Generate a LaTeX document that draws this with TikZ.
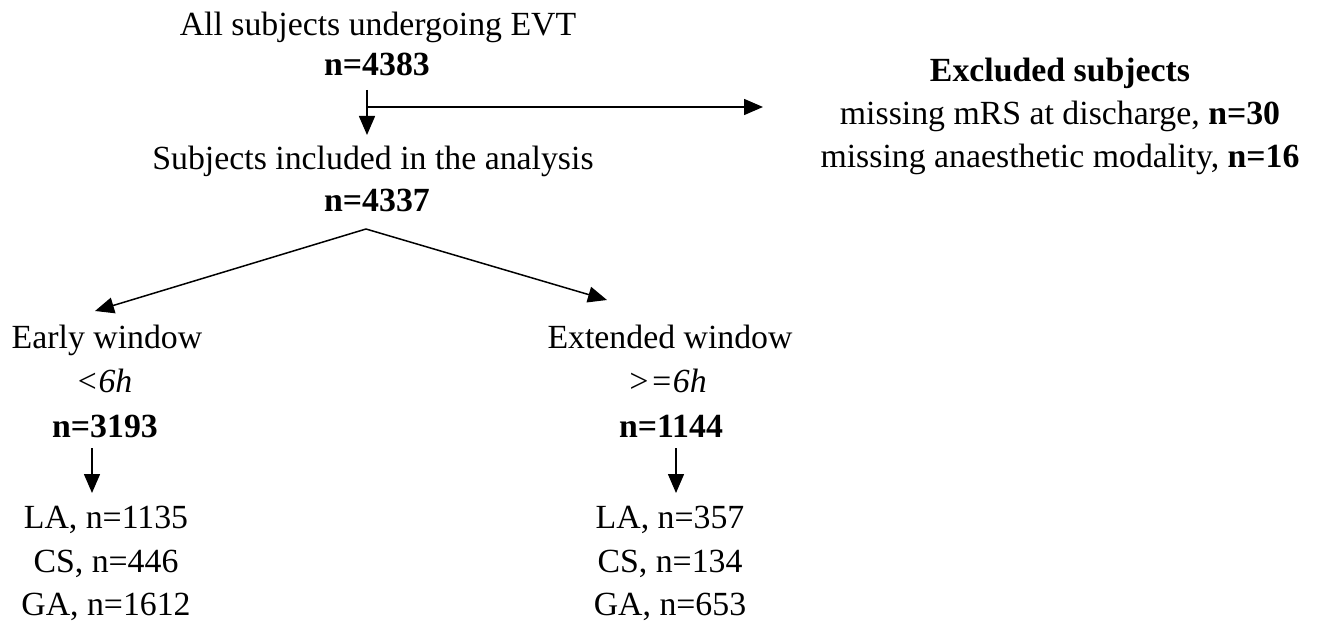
\documentclass[tikz,border=0pt]{standalone}
\usepackage{fontspec}
\setmainfont{Liberation Serif}
\usetikzlibrary{arrows.meta}
\begin{document}
\begin{tikzpicture}[x=0.5pt,y=-0.5pt,
  txt/.style={anchor=base,inner sep=0pt,font=\fontsize{16.9pt}{20pt}\selectfont},
  num/.style={anchor=base,inner sep=0pt,font=\fontsize{16.9pt}{20pt}\selectfont\bfseries},
  flow/.style={-{Triangle[length=9.5pt,width=8pt]},line width=0.75pt}]
\fill[white] (0,0) rectangle (1320,625);
\useasboundingbox (0,0) rectangle (1320,625);

% top of the flow
\node[txt] (all)   at (378,36)  {All subjects undergoing EVT};
\node[num] (nall)  at (377,76)  {n=4383};
\node[txt] (incl)  at (373,170) {Subjects included in the analysis};
\node[num] (nincl) at (377,212) {n=4337};

% exclusions
\node[num] (exc)  at (1060,82)  {Excluded subjects};
\node[txt] (mrs)  at (1060,125) {missing mRS at discharge, \textbf{n=30}};
\node[txt] (anae) at (1060,168) {missing anaesthetic modality, \textbf{n=16}};

% early window column
\node[txt] (early)  at (107,348) {Early window};
\node[txt] (elt)    at (104,392) {\textit{<6h}};
\node[num] (nearly) at (105,437) {n=3193};
\node[txt] (ela)    at (106,528) {LA, n=1135};
\node[txt] (ecs)    at (106,572) {CS, n=446};
\node[txt] (ega)    at (106,615) {GA, n=1612};

% extended window column
\node[txt] (ext)  at (670,348) {Extended window};
\node[txt] (xge)  at (667,392) {\textit{>=6h}};
\node[num] (next) at (671,437) {n=1144};
\node[txt] (xla)  at (670,528) {LA, n=357};
\node[txt] (xcs)  at (670,572) {CS, n=134};
\node[txt] (xga)  at (670,615) {GA, n=653};

% connector end points
\coordinate (a0) at (367,90);
\coordinate (a1) at (367,135);
\coordinate (h0) at (367,107);
\coordinate (h1) at (763,107);
\coordinate (sp) at (366,229);
\coordinate (sl) at (95,311);
\coordinate (sr) at (607,300);
\coordinate (e0) at (92,448);
\coordinate (e1) at (92,493);
\coordinate (x0) at (676,448);
\coordinate (x1) at (676,493);

% connectors
\draw[flow] (a0) -- (a1);
\draw[flow] (h0) -- (h1);
\draw[flow] (sp) -- (sl);
\draw[flow] (sp) -- (sr);
\draw[flow] (e0) -- (e1);
\draw[flow] (x0) -- (x1);
\end{tikzpicture}
\end{document}
